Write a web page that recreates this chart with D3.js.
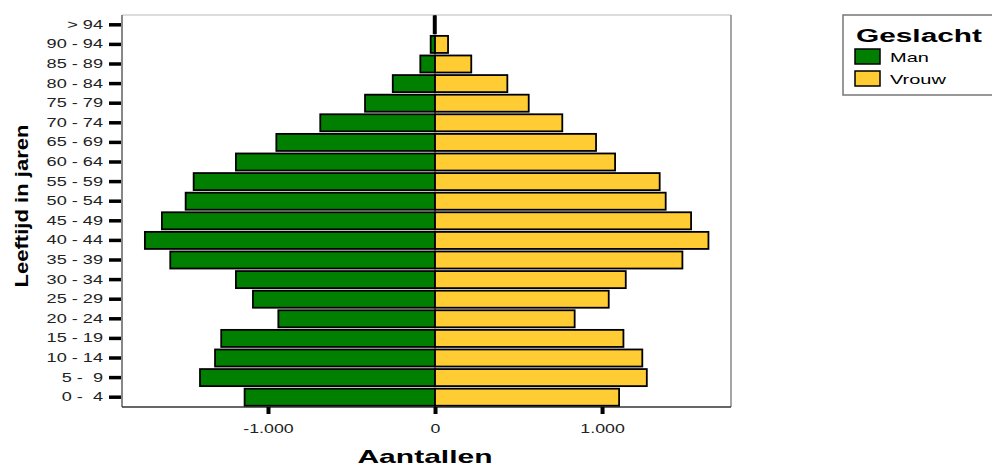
<!DOCTYPE html>
<html><head><meta charset="utf-8">
<script src="https://cdn.jsdelivr.net/npm/d3@7/dist/d3.min.js"></script>
<style>body{margin:0;background:#fff;} text{font-family:"Liberation Sans",Arial,sans-serif;}</style>
</head><body><svg id="c" width="992" height="466"></svg>
<script>
const categories = ["> 94","90 - 94","85 - 89","80 - 84","75 - 79","70 - 74","65 - 69","60 - 64","55 - 59","50 - 54","45 - 49","40 - 44","35 - 39","30 - 34","25 - 29","20 - 24","15 - 19","10 - 14","5 -  9","0 -  4"];
const man   = [8, 26, 88, 253, 419, 687, 950, 1192, 1445, 1493, 1635, 1737, 1585, 1192, 1090, 938, 1280, 1317, 1407, 1140];
const vrouw = [5, 78, 217, 433, 561, 762, 964, 1078, 1345, 1381, 1533, 1637, 1481, 1142, 1040, 836, 1128, 1241, 1268, 1102];
const xTicks = [-1000, 0, 1000];
const xTickLabels = ["-1.000", "0", "1.000"];
const seriesNames = ["Man", "Vrouw"];
const seriesColors = ["#007f00", "#ffcc33"];

const svg = d3.select("#c");
const L = 122, R = 731, T = 15, B = 407;
const x = d3.scaleLinear().domain([-1874, 1772]).range([L, R]);
const y = d3.scaleBand().domain(categories).range([T, B]).paddingInner(0.13).paddingOuter(0.065);

function stretch(sel, f) {
  sel.each(function () {
    const len = this.getComputedTextLength();
    if (len > 0) d3.select(this).attr("textLength", len * f).attr("lengthAdjust", "spacingAndGlyphs");
  });
}

// frame
svg.append("line").attr("x1", L).attr("x2", R).attr("y1", T).attr("y2", T).attr("stroke", "#d0d0d0").attr("stroke-width", 1.5);
svg.append("line").attr("x1", R).attr("x2", R).attr("y1", T).attr("y2", B).attr("stroke", "#888").attr("stroke-width", 1.5);
svg.append("line").attr("x1", L).attr("x2", L).attr("y1", T).attr("y2", B).attr("stroke", "#888").attr("stroke-width", 2);
svg.append("line").attr("x1", L).attr("x2", R).attr("y1", B).attr("y2", B).attr("stroke", "#333").attr("stroke-width", 1.5);

// bars
const g = svg.append("g");
g.selectAll("rect.m").data(categories).join("rect").attr("class", "m")
  .attr("x", (d, i) => x(-man[i])).attr("width", (d, i) => x(0) - x(-man[i]))
  .attr("y", d => y(d)).attr("height", y.bandwidth())
  .attr("fill", seriesColors[0]).attr("stroke", "#000").attr("stroke-width", 1.8);
g.selectAll("rect.v").data(categories).join("rect").attr("class", "v")
  .attr("x", x(0)).attr("width", (d, i) => x(vrouw[i]) - x(0))
  .attr("y", d => y(d)).attr("height", y.bandwidth())
  .attr("fill", seriesColors[1]).attr("stroke", "#000").attr("stroke-width", 1.8);

// y axis
const ya = svg.append("g").attr("transform", `translate(${L - 1},0)`)
  .call(d3.axisLeft(y).tickSize(12).tickPadding(6));
ya.select(".domain").remove();
ya.selectAll(".tick line").attr("stroke", "#000").attr("stroke-width", 3.5);
ya.selectAll(".tick text").attr("font-size", 12.5).attr("fill", "#222").style("white-space", "pre")
  .attr("font-family", "\"Liberation Sans\",Arial,sans-serif");
stretch(ya.selectAll(".tick text"), 1.45);

// x axis
const xa = svg.append("g").attr("transform", `translate(0,${B})`)
  .call(d3.axisBottom(x).tickValues(xTicks).tickFormat((d, i) => xTickLabels[i]).tickSize(7).tickPadding(10));
xa.select(".domain").remove();
xa.selectAll(".tick line").attr("stroke", "#000").attr("stroke-width", 4);
xa.selectAll(".tick text").attr("font-size", 12.5).attr("fill", "#222")
  .attr("font-family", "\"Liberation Sans\",Arial,sans-serif");
stretch(xa.selectAll(".tick text"), 1.42);

// axis titles
const xt = svg.append("text").attr("x", 425).attr("y", 463).attr("text-anchor", "middle")
  .attr("font-size", 19).attr("font-weight", "bold").text("Aantallen");
stretch(xt, 1.58);
const yt = svg.append("text").attr("transform", "translate(28,206) rotate(-90)").attr("text-anchor", "middle")
  .attr("font-size", 18).attr("font-weight", "bold").text("Leeftijd in jaren");
yt.attr("textLength", 163).attr("lengthAdjust", "spacingAndGlyphs");

// legend
const lg = svg.append("g");
lg.append("rect").attr("x", 843).attr("y", 15).attr("width", 160).attr("height", 80)
  .attr("fill", "#fff").attr("stroke", "#777").attr("stroke-width", 1.5);
const lt = lg.append("text").attr("x", 856).attr("y", 42).attr("font-size", 18).attr("font-weight", "bold").text("Geslacht");
lt.attr("textLength", 126).attr("lengthAdjust", "spacingAndGlyphs");
seriesNames.forEach((n, i) => {
  lg.append("rect").attr("x", 855).attr("y", 49 + i * 22).attr("width", 25).attr("height", 15)
    .attr("fill", seriesColors[i]).attr("stroke", "#000").attr("stroke-width", 1.5);
  const t = lg.append("text").attr("x", 890).attr("y", 62 + i * 22).attr("font-size", 13.5).text(n);
  stretch(t, 1.48);
});
</script></body></html>
